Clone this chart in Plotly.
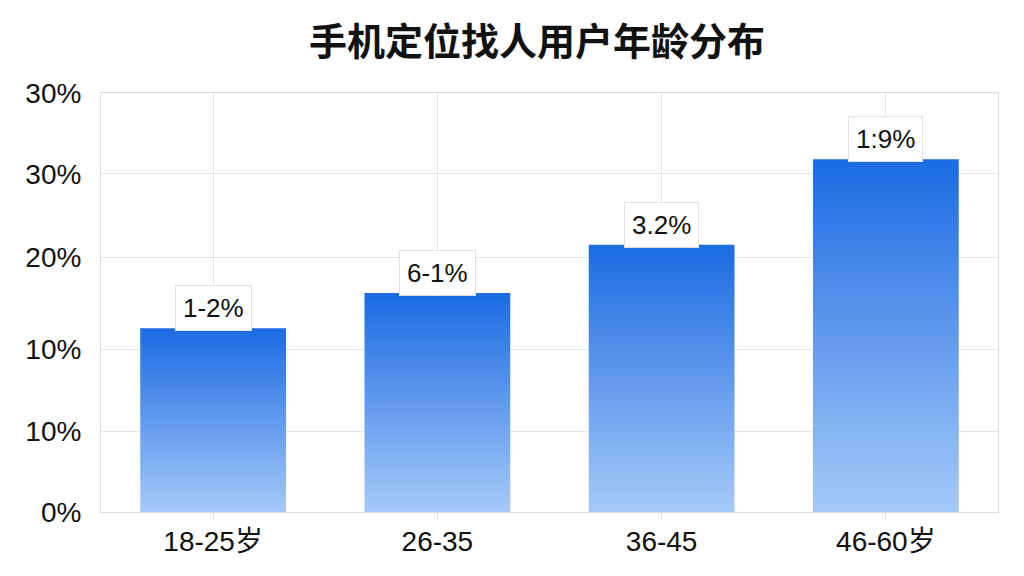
import plotly.graph_objects as go

categories = ["18-25岁", "26-35", "36-45", "46-60岁"]
values = [13.15, 15.68, 19.14, 25.26]
value_labels = ["1-2%", "6-1%", "3.2%", "1:9%"]
y_tickvals = [0, 5.79, 11.64, 18.21, 24.21, 30]
y_ticktext = ["0%", "10%", "10%", "20%", "30%", "30%"]
title_text = "手机定位找人用户年龄分布"

BAR_W = 0.65
FONT = "Liberation Sans, Arial, Noto Sans CJK SC, sans-serif"

fig = go.Figure()
for i, (cat, v) in enumerate(zip(categories, values)):
    x0, x1 = i - BAR_W / 2, i + BAR_W / 2
    fig.add_trace(go.Scatter(
        x=[x0, x1, x1, x0, x0],
        y=[0, 0, v, v, 0],
        mode="lines",
        line=dict(width=0),
        fill="toself",
        fillgradient=dict(type="vertical",
                          colorscale=[[0, "#a6c9f8"], [1, "#1b6be2"]]),
        hoveron="fills",
        name=cat,
        text=value_labels[i],
        showlegend=False,
    ))

for i, (v, lab) in enumerate(zip(values, value_labels)):
    fig.add_annotation(
        x=i, y=v, text=lab, showarrow=False,
        xanchor="center", yanchor="bottom", yshift=-3,
        font=dict(family=FONT, size=26, color="#111111"),
        bgcolor="rgba(255,255,255,0.97)",
        bordercolor="#dde1e6", borderwidth=1, borderpad=7,
    )

fig.update_layout(
    width=1024, height=576,
    paper_bgcolor="white", plot_bgcolor="white",
    margin=dict(l=93, r=34, t=85, b=72),
    title=dict(text=title_text, x=529 / 1024, xanchor="center",
               y=1 - 34 / 576, yanchor="middle",
               font=dict(family="Noto Sans CJK SC, sans-serif", size=38,
                         color="#111111", weight="bold")),
    xaxis=dict(
        range=[-0.5, 3.5], tickvals=list(range(len(categories))),
        ticktext=categories, showgrid=True, gridcolor="#e3e3e3", gridwidth=1,
        zeroline=False, showline=True, linecolor="#dcdcdc", linewidth=1,
        mirror=True, ticks="outside", ticklen=8, tickcolor="#dcdcdc",
        ticklabelstandoff=-4,
        tickfont=dict(family=FONT, size=28, color="#111111"),
        fixedrange=True,
    ),
    yaxis=dict(
        range=[0, 30], tickvals=y_tickvals, ticktext=y_ticktext,
        showgrid=True, gridcolor="#e3e3e3", gridwidth=1,
        zeroline=False, showline=True, linecolor="#dcdcdc", linewidth=1,
        mirror=True, ticks="", ticklabelstandoff=13,
        tickfont=dict(family=FONT, size=28, color="#111111"),
        fixedrange=True,
    ),
)

fig.write_html("out.html")
